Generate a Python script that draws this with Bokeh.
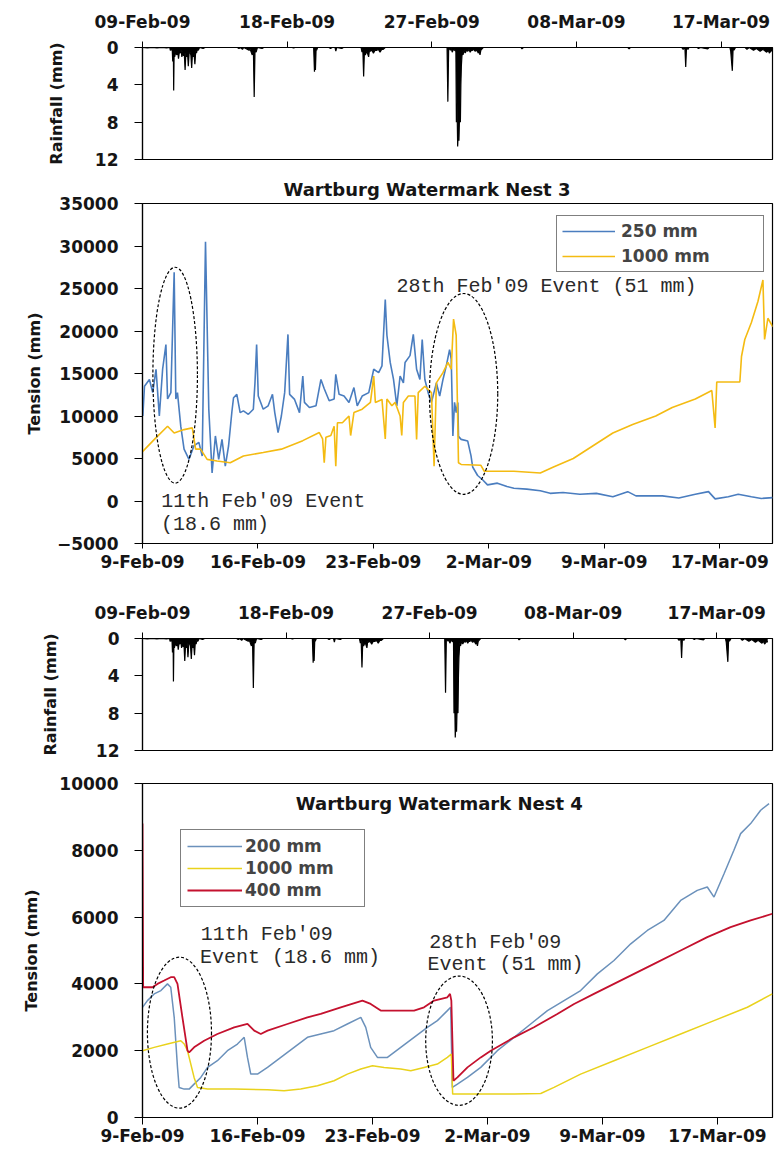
from bokeh.plotting import figure
from bokeh.layouts import column
from bokeh.models import Range1d, FixedTicker, Legend, LegendItem, Label
from bokeh.embed import file_html
from bokeh.resources import INLINE

# ---------------- data (x = days since 9-Feb-09) ----------------
rain_day = [0.0, 0.3, 0.6, 0.9, 1.2, 1.5, 1.70, 1.73, 1.85, 1.88, 1.92, 1.94, 1.97, 2.00, 2.07, 2.14,
            2.19, 2.24, 2.29, 2.34, 2.40, 2.45, 2.50, 2.55, 2.60, 2.65, 2.70, 2.75, 2.80, 2.85, 2.90,
            2.96, 3.01, 3.06, 3.11, 3.16, 3.21, 3.26, 3.31, 3.36, 3.41, 3.47, 3.55, 3.77, 3.9, 5.9,
            6.0, 6.1, 6.22, 6.3, 6.63, 6.7, 6.83, 6.90, 6.95, 7.00, 7.07, 7.15, 7.44, 7.55, 9.3, 9.4,
            9.5, 10.65, 10.70, 10.73, 10.76, 10.80, 10.83, 10.9, 11.6, 11.7, 11.8, 11.98, 12.03, 12.08,
            12.4, 12.5, 13.6, 13.66, 13.71, 13.76, 13.81, 13.86, 13.96, 14.07, 14.12, 14.17, 14.27,
            14.37, 14.47, 14.58, 14.68, 14.78, 14.88, 14.98, 15.1, 18.95, 19.00, 19.05, 19.16, 19.22,
            19.27, 19.35, 19.50, 19.53, 19.57, 19.61, 19.65, 19.69, 19.73, 19.78, 19.81, 19.84, 19.89,
            19.94, 20.01, 20.08, 20.16, 20.24, 20.31, 20.39, 20.46, 20.53, 20.61, 20.69, 20.80, 20.90,
            20.95, 21.00, 21.05, 21.10, 21.2, 23.55, 23.61, 23.7, 30.2, 30.28, 30.35, 33.55, 33.64,
            33.75, 33.80, 33.85, 33.94, 34.0, 34.5, 34.6, 34.7, 35.17, 35.25, 36.55, 36.60, 36.70,
            36.75, 36.80, 36.9, 37.5, 37.61, 37.75, 38.02, 38.2, 38.43, 38.6, 38.84, 38.95, 39.0,
            39.14, 39.2]
rain_mm = [0, 0.05, 0, 0.05, 0, 0.05, 0, 0.3, 0.2, 1.5, 0.2, 4.6, 0.3, 1.0, 0.5, 0.8,
           0.4, 1.2, 0.5, 0.6, 0.3, 1.0, 0.4, 0.9, 0.6, 2.4, 0.6, 1.0, 0.5, 2.0, 0.6,
           0.5, 0.8, 2.2, 0.6, 1.0, 0.7, 1.8, 0.4, 0.6, 0.2, 0.3, 0, 0.1, 0, 0,
           0.1, 0, 0.2, 0, 0.3, 0.2, 0.8, 0.3, 5.3, 0.3, 0.5, 0, 0.1, 0, 0, 0.05,
           0, 0, 2.6, 0.3, 2.4, 0.2, 0.3, 0, 0, 0.1, 0, 0, 0.4, 0,
           0.1, 0, 0, 0.5, 0.2, 3.1, 0.3, 0.8, 0.4, 1.0, 0.3, 0.4, 0.3,
           0.6, 0.3, 0.3, 0.2, 0.5, 0.2, 0.2, 0, 0, 5.8, 0, 0.3, 0.1,
           0.5, 0.2, 0.4, 8.0, 6.0, 10.6, 9.0, 10.0, 7.0, 8.0, 4.0, 2.0, 0.5,
           0.8, 0.3, 0.6, 0.3, 0.4, 0.2, 0.5, 0.3, 0.3, 0.2, 0.4, 0.3, 0.6,
           0.4, 0.8, 0.3, 0.2, 0, 0, 0.15, 0, 0, 0.15, 0, 0, 0.2,
           0, 2.1, 0, 0.2, 0, 0, 0.1, 0, 0.15, 0, 0, 0.4, 2.5,
           0, 0.3, 0, 0, 0.2, 0, 0.3, 0.1, 0.4, 0.2, 0.5, 0.3, 0.6,
           0.3, 0.4]

# Nest 3
n3_250_day = [0.02, 0.12, 0.42, 0.62, 0.82, 1.02, 1.22, 1.42, 1.52, 1.72, 1.92, 2.02, 2.12, 2.32, 2.52,
              2.82, 3.12, 3.42, 3.62, 3.82, 4.02, 4.22, 4.42, 4.62, 4.82, 5.02, 5.22, 5.42, 5.52, 5.72,
              5.92, 6.12, 6.42, 6.72, 6.82, 6.92, 7.02, 7.32, 7.62, 7.88, 8.02, 8.22, 8.42, 8.62, 8.82,
              8.92, 9.22, 9.52, 9.72, 9.82, 10.12, 10.52, 10.82, 11.02, 11.32, 11.62, 11.72, 11.92,
              12.22, 12.52, 12.82, 13.02, 13.32, 13.72, 14.02, 14.32, 14.52, 14.72, 14.82, 15.02,
              15.22, 15.42, 15.62, 15.82, 15.92, 16.22, 16.42, 16.62, 16.82, 16.96, 17.12, 17.32,
              17.52, 17.82, 18.02, 18.22, 18.42, 18.62, 18.72, 18.82, 18.92, 19.02, 19.12, 19.16,
              19.32, 19.72, 19.92, 20.02, 20.32, 20.62, 20.92, 21.52, 22.1, 22.52, 23.3, 24.12, 24.72,
              25.5, 26.52, 27.52, 28.52, 29.42, 29.92, 31.52, 32.52, 33.52, 34.32, 34.72, 35.52, 36.12,
              36.92, 37.52, 38.22]
n3_250_val = [10000, 13500, 14300, 12750, 15500, 10000, 15500, 18400, 12000, 12750, 26900, 12000, 12750,
              8800, 6100, 4900, 6500, 6900, 5300, 30500, 10800, 3300, 7650, 4900, 7250, 4100, 6500,
              10500, 12150, 12550, 10400, 10600, 10200, 10800, 13900, 18400, 12350, 10800, 11200,
              12550, 10400, 8050, 10000, 12750, 19600, 12550, 11950, 10400, 14700, 11600, 11000,
              11200, 14300, 13200, 11800, 12000, 14900, 12550, 12350, 11600, 13350, 11200, 12350,
              12750, 15500, 15100, 15900, 23700, 19500, 16300, 14300, 11200, 14700, 13900, 16300,
              17100, 19600, 15500, 14300, 19000, 14300, 12750, 11600, 13900, 12350, 14300, 15900,
              17800, 16700, 7650, 11600, 10400, 11600, 7600, 7250, 7050, 5300, 4000, 3000, 2500,
              1900, 2100, 1700, 1500, 1400, 1200, 900, 1000, 800, 900, 500, 1100, 600, 600, 350, 800,
              1100, 250, 500, 800, 500, 300, 400]
n3_1000_day = [0.0, 0.72, 1.52, 1.92, 2.52, 3.02, 3.22, 3.52, 3.92, 4.52, 5.32, 6.12, 7.32, 8.42, 9.72,
               10.72, 10.92, 11.02, 11.12, 11.42, 11.62, 11.72, 11.82, 12.12, 12.52, 12.62, 12.82,
               13.32, 13.82, 14.02, 14.12, 14.52, 14.72, 14.82, 15.12, 15.32, 15.62, 15.72, 15.82,
               16.12, 16.52, 16.62, 16.72, 17.12, 17.52, 17.68, 17.82, 18.22, 18.52, 18.72, 18.86,
               19.02, 19.16, 19.32, 20.52, 20.72, 22.52, 24.12, 24.92, 26.12, 27.32, 28.52, 29.72,
               31.12, 32.12, 33.52, 34.52, 34.72, 34.82, 36.22, 36.32, 36.52, 36.92, 37.32, 37.62,
               37.72, 37.92, 38.22]
n3_1000_val = [5800, 7250, 8800, 8000, 8400, 8600, 6100, 6100, 4900, 4700, 4500, 5300, 5700, 6100, 7100,
               8050, 7300, 4500, 7500, 7700, 8800, 4100, 9200, 9200, 10000, 7700, 10400,
               10800, 11600, 14700, 11600, 11950, 7300, 12000, 11200, 11600, 10000, 7700, 11600,
               12350, 12350, 7250, 12750, 13500, 12750, 4100, 13900, 15100, 16300, 15500, 21400,
               19500, 4500, 4300, 4200, 3500, 3500, 3300, 4000, 5000, 6500, 8000, 9000,
               10000, 11000, 12000, 13000, 8600, 14000, 14000, 17000, 19000, 21000, 23500, 26000,
               19000, 21500, 20500]

# Nest 4
n4_200_day = [0.0, 0.30, 0.71, 1.12, 1.52, 1.72, 1.93, 2.13, 2.23, 2.54, 2.84, 3.14, 3.55, 3.96, 4.56,
              5.17, 5.78, 6.19, 6.39, 6.59, 7.00, 7.61, 8.42, 9.23, 10.04, 10.85, 11.66, 12.47, 13.29,
              13.59, 13.89, 14.30, 14.91, 15.72, 16.53, 17.34, 17.95, 18.56, 18.76, 18.86, 19.17, 19.78,
              20.59, 21.60, 22.62, 23.63, 24.65, 25.66, 26.67, 27.69, 28.70, 29.72, 30.73, 31.74, 32.76,
              33.77, 34.38, 34.79, 35.40, 36.00, 36.41, 37.02, 37.63, 38.14]
n4_200_val = [3300, 3500, 3700, 3800, 4000, 3900, 3000, 1500, 900, 850, 850, 1000, 1200, 1500, 1700,
              2000, 2200, 2400, 1800, 1300, 1300, 1500, 1800, 2100, 2400, 2500, 2600, 2800, 3000,
              2700, 2100, 1800, 1800, 2100, 2400, 2700, 2900, 3200, 3300, 900, 1000, 1200,
              1500, 2000, 2400, 2800, 3200, 3500, 3800, 4300, 4700, 5200, 5600, 5900, 6500,
              6800, 6900, 6600, 7300, 8000, 8500, 8800, 9200, 9400]
n4_1000_day = [0.0, 0.71, 1.52, 2.33, 2.54, 2.74, 3.14, 3.35, 3.96, 5.58, 7.61, 8.62, 9.63, 10.65, 11.66,
               12.47, 13.29, 14.00, 14.71, 15.72, 16.33, 17.14, 17.95, 18.56, 18.80, 18.88, 19.57,
               22.62, 24.24, 25.05, 26.67, 28.70, 30.73, 32.76, 34.79, 36.82, 38.34]
n4_1000_val = [2000, 2100, 2200, 2300, 2200, 2000, 1200, 900, 850, 850, 830, 800, 850, 950, 1100,
               1300, 1450, 1550, 1500, 1450, 1400, 1500, 1600, 1800, 1900, 700, 700,
               700, 720, 900, 1300, 1700, 2100, 2500, 2900, 3300, 3700]
n4_400_day = [0.0, 0.04, 0.61, 0.91, 1.32, 1.72, 1.93, 2.13, 2.43, 2.74, 2.84, 3.14, 3.75, 4.56, 5.58,
              6.39, 6.80, 7.20, 7.61, 8.82, 10.04, 10.85, 12.07, 13.39, 13.89, 14.50, 15.72, 16.53,
              17.14, 17.75, 18.56, 18.72, 18.80, 18.93, 19.17, 19.78, 20.59, 21.20, 22.62, 23.83,
              25.25, 26.27, 27.48, 28.70, 29.92, 31.14, 32.76, 34.38, 35.80, 37.02, 38.34]
n4_400_val = [8800, 3900, 3900, 4000, 4100, 4200, 4200, 4000, 3000, 2000, 1950, 2100, 2300, 2500, 2700,
              2800, 2600, 2500, 2600, 2800, 3000, 3100, 3300, 3500, 3400, 3200, 3200, 3200,
              3300, 3500, 3600, 3700, 3500, 1100, 1200, 1500, 1800, 2000, 2400, 2700,
              3100, 3400, 3700, 4000, 4300, 4600, 5000, 5400, 5700, 5900, 6100]

# tick labels
rain_ticks = [0, 9, 18, 27, 36]
rain_tick_labels = ["09-Feb-09", "18-Feb-09", "27-Feb-09", "08-Mar-09", "17-Mar-09"]
ten_ticks = [0, 7, 14, 21, 28, 35]
ten_tick_labels = ["9-Feb-09", "16-Feb-09", "23-Feb-09", "2-Mar-09", "9-Mar-09", "17-Mar-09"]

# event annotations: (centre day, centre tension, width days, height tension)
n3_events = [(1.98, 14800, 2.7, 25400), (19.47, 12600, 4.14, 23650)]
n4_events = [(2.25, 2540, 3.9, 4520), (19.27, 2300, 4.06, 3870)]

# ---------------- styling helpers ----------------
FONT = "DejaVu Sans"
MONO = "Liberation Mono"
W = 776


def style(p, tick_out=6):
    p.xgrid.visible = False
    p.ygrid.visible = False
    p.outline_line_color = "black"
    p.outline_line_width = 1.2
    p.background_fill_color = "white"
    p.border_fill_color = "white"
    for ax in p.axis:
        ax.axis_line_color = "black"
        ax.axis_line_width = 1.2
        ax.major_tick_line_color = "black"
        ax.major_tick_out = tick_out
        ax.major_tick_in = 0
        ax.minor_tick_line_color = None
        ax.major_label_text_font = FONT
        ax.major_label_text_font_style = "bold"
        ax.major_label_text_font_size = "17px"
        ax.major_label_text_color = "#151515"
        ax.axis_label_text_font = FONT
        ax.axis_label_text_font_style = "bold"
        ax.axis_label_text_font_size = "16px"
        ax.axis_label_text_color = "#151515"


def rain_fig(height, top, bottom, left, right, xend, xstand, ystand, lstand):
    p = figure(width=W, height=height, x_range=Range1d(0, xend), y_range=Range1d(12, 0),
               x_axis_location="above", output_backend="svg", toolbar_location=None,
               min_border_left=left, min_border_right=right, min_border_top=top,
               min_border_bottom=bottom)
    p.line(rain_day, rain_mm, line_color="black", line_width=1.2)
    p.varea(x=rain_day, y1=[0] * len(rain_day), y2=rain_mm, fill_color="black")
    style(p)
    p.xaxis.ticker = FixedTicker(ticks=rain_ticks)
    p.xaxis.major_label_overrides = dict(zip(rain_ticks, rain_tick_labels))
    p.xaxis.major_label_standoff = xstand
    p.yaxis.ticker = FixedTicker(ticks=[0, 4, 8, 12])
    p.yaxis.major_tick_out = 8
    p.yaxis.axis_label = "Rainfall (mm)"
    p.yaxis.major_label_standoff = ystand
    p.yaxis.axis_label_standoff = lstand
    return p


def note(p, x, y, text):
    p.add_layout(Label(x=x, y=y, text=text, text_font=MONO, text_font_size="20px",
                       text_color="#2a2a2a", text_baseline="middle", text_align="left"))


# ---------------- panel 1: rainfall ----------------
p1 = rain_fig(170, 47, 11, 132, 3, 39.2, 10, 16, 26)

# ---------------- panel 2: nest 3 ----------------
p2 = figure(width=W, height=404, x_range=Range1d(0, 38.2), y_range=Range1d(-5000, 35000),
            output_backend="svg", toolbar_location=None,
            min_border_left=138, min_border_right=1, min_border_top=33, min_border_bottom=31)
r_b3 = p2.line(n3_250_day, n3_250_val, line_color="#4a7dbf", line_width=1.6)
r_y3 = p2.line(n3_1000_day, n3_1000_val, line_color="#f4bb12", line_width=1.6)
style(p2)
p2.xaxis.ticker = FixedTicker(ticks=ten_ticks)
p2.xaxis.major_label_overrides = dict(zip(ten_ticks, ten_tick_labels))
p2.xaxis.major_tick_out = 5
p2.xaxis.major_label_standoff = 3
p2.yaxis.ticker = FixedTicker(ticks=list(range(-5000, 35001, 5000)))
p2.yaxis.major_tick_out = 8
p2.yaxis.major_label_standoff = 16
p2.yaxis.axis_label = "Tension (mm)"
p2.yaxis.axis_label_standoff = 10
p2.title.text = "Wartburg Watermark Nest 3"
p2.title.text_font = FONT
p2.title.text_font_size = "18px"
p2.title.text_font_style = "bold"
p2.title.text_color = "#151515"
p2.title.align = "left"
p2.title.offset = 141
p2.title.standoff = 8
for cx, cy, w, h in n3_events:
    p2.ellipse(x=cx, y=cy, width=w, height=h, fill_alpha=0, line_color="black",
               line_width=1.2, line_dash="3 2")
note(p2, 15.4, 25260, "28th Feb'09 Event (51 mm)")
note(p2, 1.14, 0, "11th Feb'09 Event")
note(p2, 1.12, -2740, "(18.6 mm)")
leg3 = Legend(items=[LegendItem(label="250 mm", renderers=[r_b3]),
                     LegendItem(label="1000 mm", renderers=[r_y3])],
              location=(414, 271), padding=5, spacing=5, glyph_width=53, glyph_height=20,
              label_standoff=6, label_width=137, label_height=20,
              label_text_font=FONT, label_text_font_style="bold", label_text_font_size="17px",
              border_line_color="black", border_line_width=1.5, background_fill_alpha=1,
              margin=0)
p2.add_layout(leg3)

# ---------------- panel 3: rainfall ----------------
p3 = rain_fig(194, 64, 18, 138, 1, 39.5, 10, 15, 33)

# ---------------- panel 4: nest 4 ----------------
p4 = figure(width=W, height=381, x_range=Range1d(0, 38.35), y_range=Range1d(0, 10000),
            output_backend="svg", toolbar_location=None,
            min_border_left=142, min_border_right=4, min_border_top=15, min_border_bottom=32)
r_b4 = p4.line(n4_200_day, n4_200_val, line_color="#6b91bb", line_width=1.5)
r_y4 = p4.line(n4_1000_day, n4_1000_val, line_color="#e9d21c", line_width=1.5)
r_r4 = p4.line(n4_400_day, n4_400_val, line_color="#c4112e", line_width=1.8)
style(p4)
p4.xaxis.ticker = FixedTicker(ticks=ten_ticks)
p4.xaxis.major_label_overrides = dict(zip(ten_ticks, ten_tick_labels))
p4.xaxis.major_tick_out = 7
p4.xaxis.major_label_standoff = 1
p4.yaxis.ticker = FixedTicker(ticks=list(range(0, 10001, 2000)))
p4.yaxis.major_tick_out = 8
p4.yaxis.major_label_standoff = 16
p4.yaxis.axis_label = "Tension (mm)"
p4.yaxis.axis_label_standoff = 15
p4.add_layout(Label(x=9.33, y=9400, text="Wartburg Watermark Nest 4", text_font=FONT,
                    text_font_size="18px", text_font_style="bold", text_color="#151515",
                    text_baseline="middle"))
for cx, cy, w, h in n4_events:
    p4.ellipse(x=cx, y=cy, width=w, height=h, fill_alpha=0, line_color="black",
               line_width=1.2, line_dash="3 2")
note(p4, 3.55, 5480, "11th Feb'09")
note(p4, 3.50, 4790, "Event (18.6 mm)")
note(p4, 17.45, 5240, "28th Feb'09")
note(p4, 17.35, 4580, "Event (51 mm)")
leg4 = Legend(items=[LegendItem(label="200 mm", renderers=[r_b4]),
                     LegendItem(label="1000 mm", renderers=[r_y4]),
                     LegendItem(label="400 mm", renderers=[r_r4])],
              location=(38, 210), padding=6, spacing=2, glyph_width=55, glyph_height=20,
              label_standoff=3, label_width=113, label_height=20,
              label_text_font=FONT, label_text_font_style="bold", label_text_font_size="17px",
              border_line_color="black", border_line_width=1.5, background_fill_alpha=1,
              margin=0)
p4.add_layout(leg4)

layout = column(p1, p2, p3, p4, spacing=0)
open("out.html", "w").write(file_html(layout, INLINE))
